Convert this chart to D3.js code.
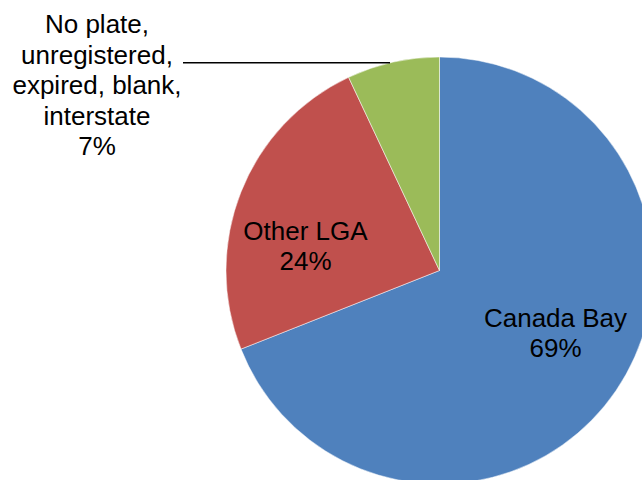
<!DOCTYPE html>
<html>
<head>
<meta charset="utf-8">
<script src="https://cdn.jsdelivr.net/npm/d3@7"></script>
<style>
  html, body { margin: 0; padding: 0; background: #fff; }
  svg { display: block; }
  text { font-family: "Liberation Sans", Arial, sans-serif; fill: #000; }
</style>
</head>
<body>
<svg id="chart" width="642" height="480"></svg>
<script>
// Share of vehicles by registration origin
const categories = ["Canada Bay", "Other LGA", "No plate, unregistered, expired, blank, interstate"];
const values = [69, 24, 7];
const labelLines = [
  ["Canada Bay"],
  ["Other LGA"],
  ["No plate,", "unregistered,", "expired, blank,", "interstate"]
];
const colors = ["#4F81BD", "#C0504D", "#9BBB59"];

const svg = d3.select("#chart");
const cx = 439.5, cy = 270.5, r = 213.5;
const fontSize = 26, lineH = 30.5;

const g = svg.append("g").attr("transform", `translate(${cx},${cy})`);

const pie = d3.pie().sort(null).value(d => d.value);
const arcs = pie(categories.map((c, i) => ({ name: c, value: values[i], lines: labelLines[i] })));
const arc = d3.arc().innerRadius(0).outerRadius(r);

g.selectAll("path.slice")
  .data(arcs)
  .enter().append("path")
  .attr("class", "slice")
  .attr("d", arc)
  .attr("fill", (d, i) => colors[i])
  .attr("stroke", "#fff")
  .attr("stroke-width", 0.5);

// Label anchors (centre of first line, baseline) in chart coordinates
const labelPos = [
  { x: 555.5, y: 326.5 },
  { x: 305.5, y: 239.5 },
  { x: 97, y: 33 }
];

arcs.forEach((d, i) => {
  const lines = d.data.lines.concat([d3.format(".0f")(d.data.value) + "%"]);
  const t = svg.append("text")
    .attr("text-anchor", "middle")
    .attr("font-size", fontSize);
  lines.forEach((ln, k) => {
    t.append("tspan")
      .attr("x", labelPos[i].x)
      .attr("y", labelPos[i].y + k * lineH)
      .text(ln);
  });
});

// Leader line for the small slice label
svg.append("line")
  .attr("x1", 183).attr("x2", 390)
  .attr("y1", 62.7).attr("y2", 62.7)
  .attr("stroke", "#000")
  .attr("stroke-width", 1.6);
</script>
</body>
</html>
